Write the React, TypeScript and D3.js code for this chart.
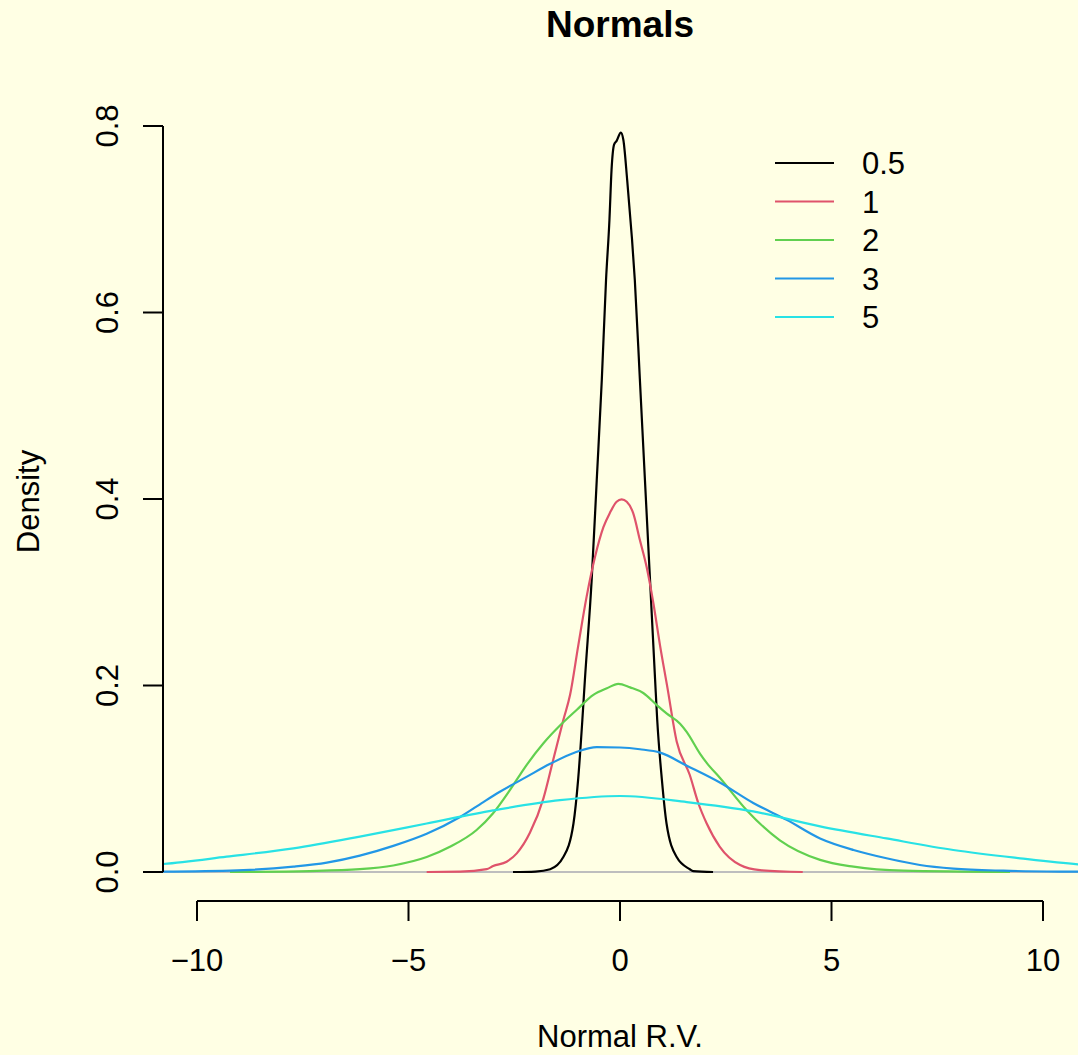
import React from 'react';
import * as d3 from 'd3';

// legend labels (sd of each sample) and R's default palette
const sdLabels = ['0.5', '1', '2', '3', '5'];
const colors = ['#000000', '#DF536B', '#61D04F', '#2297E6', '#28E2E5'];

// density curves
const sd05X = [-2.53, -2.0, -1.65, -1.34, -1.1, -0.99, -0.89, -0.83, -0.67, -0.55, -0.43, -0.33, -0.25, -0.2, -0.14, -0.08, 0.02, 0.08, 0.17, 0.28, 0.35, 0.47, 0.59, 0.71, 0.83, 0.88, 0.99, 1.1, 1.34, 1.65, 1.73, 2.2];
const sd05Y = [0, 0.0005, 0.003, 0.016, 0.052, 0.099, 0.163, 0.206, 0.313, 0.42, 0.528, 0.635, 0.699, 0.753, 0.78, 0.784, 0.793, 0.785, 0.742, 0.681, 0.635, 0.528, 0.42, 0.313, 0.206, 0.163, 0.099, 0.052, 0.016, 0.003, 0.001, 0];

const sd1X = [-4.57, -3.78, -3.15, -3.0, -2.68, -2.44, -2.13, -1.81, -1.58, -1.34, -1.18, -0.99, -0.79, -0.59, -0.39, -0.24, -0.08, 0.04, 0.16, 0.31, 0.47, 0.63, 0.79, 0.95, 1.12, 1.34, 1.65, 1.85, 2.05, 2.36, 2.84, 3.31, 4.32];
const sd1Y = [0, 0.0003, 0.003, 0.0064, 0.011, 0.02, 0.042, 0.079, 0.12, 0.163, 0.19, 0.242, 0.295, 0.338, 0.37, 0.385, 0.397, 0.3996, 0.397, 0.385, 0.356, 0.327, 0.288, 0.242, 0.198, 0.14, 0.104, 0.074, 0.052, 0.027, 0.0075, 0.002, 0];

const sd2X = [-9.22, -7.33, -6.15, -5.36, -4.57, -4.02, -3.39, -3.0, -2.6, -2.25, -1.81, -1.42, -1.02, -0.63, -0.31, -0.04, 0.24, 0.55, 0.87, 1.1, 1.42, 1.58, 1.89, 2.05, 2.36, 3.0, 3.78, 4.73, 5.52, 6.7, 9.22];
const sd2Y = [0, 0.001, 0.003, 0.007, 0.016, 0.027, 0.045, 0.063, 0.088, 0.112, 0.138, 0.157, 0.174, 0.19, 0.197, 0.2018, 0.198, 0.192, 0.179, 0.17, 0.159, 0.15, 0.127, 0.117, 0.101, 0.066, 0.034, 0.013, 0.0057, 0.0014, 0];

const sd3X = [-11.5, -10.8, -8.9, -7.72, -6.93, -6.15, -5.36, -4.57, -3.78, -3.23, -2.84, -2.21, -1.65, -1.02, -0.55, 0, 0.47, 0.95, 1.58, 2.36, 3.15, 3.94, 4.73, 5.52, 6.3, 7.09, 7.88, 9.06, 10.83, 11.5];
const sd3Y = [0, 0.0003, 0.002, 0.0057, 0.01, 0.0175, 0.028, 0.041, 0.059, 0.075, 0.086, 0.102, 0.116, 0.129, 0.134, 0.1335, 0.1316, 0.128, 0.114, 0.096, 0.074, 0.056, 0.036, 0.0236, 0.0147, 0.0075, 0.0036, 0.0014, 0.0003, 0];

const sd5X = [-12, -10.8, -9.3, -7.72, -6.15, -4.57, -3.0, -1.42, 0, 1.58, 3.15, 4.73, 6.3, 7.88, 9.46, 10.83, 12];
const sd5Y = [0.0055, 0.0086, 0.0164, 0.0254, 0.038, 0.052, 0.066, 0.077, 0.0815, 0.075, 0.065, 0.049, 0.036, 0.0236, 0.0147, 0.0082, 0.005];

const seriesX = [sd05X, sd1X, sd2X, sd3X, sd5X];
const seriesY = [sd05Y, sd1Y, sd2Y, sd3Y, sd5Y];

const xTicks = [-10, -5, 0, 5, 10];
const xTickLabels = ['\u221210', '\u22125', '0', '5', '10'];
const yTicks = [0, 0.2, 0.4, 0.6, 0.8];

const W = 1078;
const H = 1055;
const FONT = '"Liberation Sans", Arial, Helvetica, sans-serif';

export default function App() {
  const x = d3.scaleLinear().domain([-10, 10]).range([197, 1043]);
  const y = d3.scaleLinear().domain([0, 0.8]).range([872, 126]);

  // plot region (R's usr box)
  const left = 163;
  const right = 1078;
  const top = 102;
  const bottom = 901;

  const line = d3
    .line<[number, number]>()
    .x(d => x(d[0]))
    .y(d => y(d[1]))
    .curve(d3.curveMonotoneX);

  const legendY = [163, 201.5, 240, 278.5, 317];

  return (
    <div style={{ position: 'absolute', left: 0, top: 0, width: W, height: H, background: '#FFFFE4' }}>
      <svg width={W} height={H} style={{ display: 'block' }} fontFamily={FONT}>
        <rect x={0} y={0} width={W} height={H} fill="#FFFFE4" />
        <defs>
          <clipPath id="plotClip">
            <rect x={left} y={top} width={right - left} height={bottom - top} />
          </clipPath>
        </defs>

        {/* title */}
        <text x={620} y={37} textAnchor="middle" fontSize={37} fontWeight="bold">Normals</text>

        <g clipPath="url(#plotClip)">
          {/* zero line */}
          <line x1={left} x2={right} y1={y(0)} y2={y(0)} stroke="#BEBEBE" strokeWidth={2} />
          {seriesX.map((xs, i) => (
            <path
              key={i}
              d={line(xs.map((v, j) => [v, seriesY[i][j]] as [number, number])) || ''}
              fill="none"
              stroke={colors[i]}
              strokeWidth={2.2}
            />
          ))}
        </g>

        {/* x axis */}
        <g stroke="#000" strokeWidth={2}>
          <line x1={x(-10)} x2={x(10)} y1={bottom} y2={bottom} />
          {xTicks.map(t => (
            <line key={t} x1={x(t)} x2={x(t)} y1={bottom} y2={bottom + 20} />
          ))}
        </g>
        {xTicks.map((t, i) => (
          <text key={t} x={x(t)} y={971} textAnchor="middle" fontSize={31}>{xTickLabels[i]}</text>
        ))}
        <text x={620} y={1047} textAnchor="middle" fontSize={31}>Normal R.V.</text>

        {/* y axis */}
        <g stroke="#000" strokeWidth={2}>
          <line x1={left} x2={left} y1={y(0)} y2={y(0.8)} />
          {yTicks.map(t => (
            <line key={t} x1={left - 20} x2={left} y1={y(t)} y2={y(t)} />
          ))}
        </g>
        {yTicks.map(t => (
          <text key={t} transform={`translate(118,${y(t)}) rotate(-90)`} textAnchor="middle" fontSize={31}>
            {t.toFixed(1)}
          </text>
        ))}
        <text transform={`translate(39,${(top + bottom) / 2}) rotate(-90)`} textAnchor="middle" fontSize={31}>Density</text>

        {/* legend */}
        {sdLabels.map((lab, i) => (
          <g key={lab}>
            <line x1={775} x2={834} y1={legendY[i]} y2={legendY[i]} stroke={colors[i]} strokeWidth={2.2} />
            <text x={862} y={legendY[i] + 11} fontSize={31}>{lab}</text>
          </g>
        ))}
      </svg>
    </div>
  );
}
